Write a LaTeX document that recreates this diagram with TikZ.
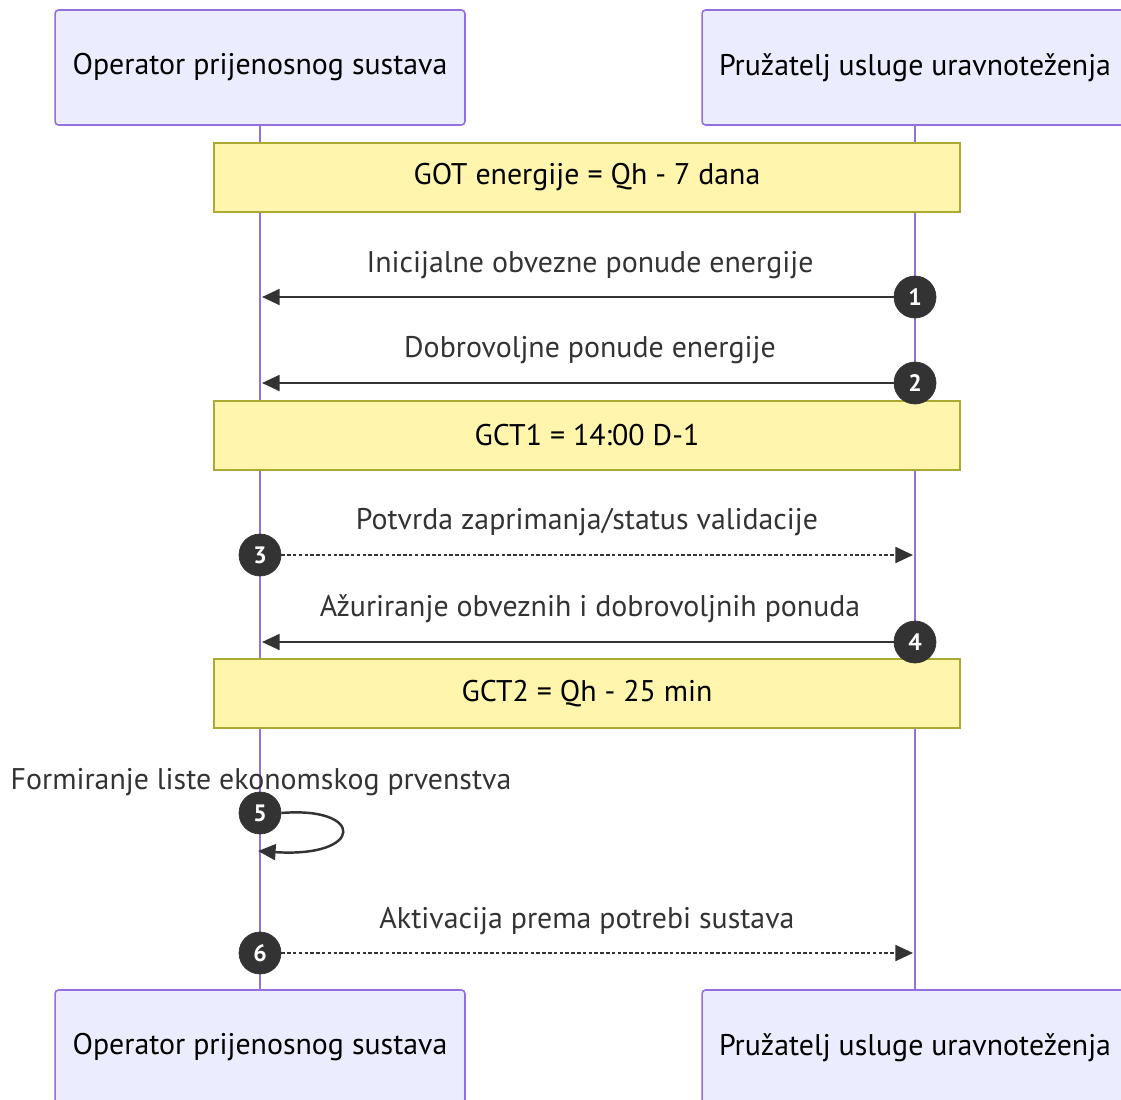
\documentclass[tikz,border=0pt]{standalone}
\usepackage{fontspec}
\setmainfont{PT Sans}
\usetikzlibrary{arrows.meta}
\definecolor{actfill}{HTML}{ECECFF}
\definecolor{actline}{HTML}{9370DB}
\definecolor{notefill}{HTML}{FFF5AD}
\definecolor{noteline}{HTML}{AAAA33}
\definecolor{msgcol}{HTML}{333333}

\begin{document}
\begin{tikzpicture}[x=0.02cm,y=-0.02cm,
    every node/.style={font=\fontsize{17}{20}\selectfont},
    actor/.style={draw=actline,fill=actfill,line width=0.9pt,rounded corners=2pt,
                  minimum height=2.3cm,text=black},
    lifeline/.style={draw=actline,line width=1.6pt},
    notebox/.style={draw=noteline,fill=notefill,line width=0.9pt,
                    minimum width=14.92cm,minimum height=1.38cm,text=black},
    msg/.style={draw=msgcol,line width=1.4pt,-{Triangle[length=10pt,width=9pt]}},
    reply/.style={msg,dash pattern=on 2pt off 1.3pt},
    msglabel/.style={text=msgcol},
    seqnum/.style={circle,fill=msgcol,draw=msgcol,text=white,minimum size=0.84cm,
                   inner sep=0pt,font=\fontsize{13.5}{14}\selectfont\bfseries}]
    \useasboundingbox (0,0) rectangle (1121,1099);
    % actors top and bottom
    \node at (260,67.5)   [actor,minimum width=8.2cm]  (opsTop) {Operator prijenosnog sustava};
    \node at (915,67.5)   [actor,minimum width=8.52cm] (puuTop) {Pružatelj usluge uravnoteženja};
    \node at (260,1047.5) [actor,minimum width=8.2cm]  (opsBot) {Operator prijenosnog sustava};
    \node at (915,1047.5) [actor,minimum width=8.52cm] (puuBot) {Pružatelj usluge uravnoteženja};
    % lifelines
    \draw[lifeline] (opsTop) -- (opsBot);
    \draw[lifeline] (puuTop) -- (puuBot);
    % notes over both lifelines
    \node at (587,177.5) [notebox] (noteGot)  {GOT energije = Qh - 7 dana};
    \node at (587,435.5) [notebox] (noteGctA) {GCT1 = 14:00 D-1};
    \node at (587,693.5) [notebox] (noteGctB) {GCT2 = Qh - 25 min};
    % message 1
    \coordinate (e1) at (262,297);
    \draw[msg] (915,297) -- (e1);
    \node at (915,297) [seqnum] (n1) {1};
    \node at (590,265) [msglabel] (lab1) {Inicijalne obvezne ponude energije};
    % message 2
    \coordinate (e2) at (262,383);
    \draw[msg] (915,383) -- (e2);
    \node at (915,383) [seqnum] (n2) {2};
    \node at (590,350) [msglabel] (lab2) {Dobrovoljne ponude energije};
    % message 3
    \node at (260,555) [seqnum] (n3) {3};
    \coordinate (e3) at (913,555);
    \draw[reply] (n3) -- (e3);
    \node at (587,522) [msglabel] (lab3) {Potvrda zaprimanja/status validacije};
    % message 4
    \coordinate (e4) at (262,642);
    \draw[msg] (915,642) -- (e4);
    \node at (915,642) [seqnum] (n4) {4};
    \node at (590,609) [msglabel] (lab4) {Ažuriranje obveznih i dobrovoljnih ponuda};
    % message 5, self call
    \node at (260,813) [seqnum] (n5) {5};
    \coordinate (e5) at (258,851);
    \draw[msg] (n5.east) .. controls (365,806) and (365,858) .. (e5);
    \node at (261,782) [msglabel] (lab5) {Formiranje liste ekonomskog prvenstva};
    % message 6
    \node at (260,953) [seqnum] (n6) {6};
    \coordinate (e6) at (913,953);
    \draw[reply] (n6) -- (e6);
    \node at (587,921) [msglabel] (lab6) {Aktivacija prema potrebi sustava};
\end{tikzpicture}
\end{document}
